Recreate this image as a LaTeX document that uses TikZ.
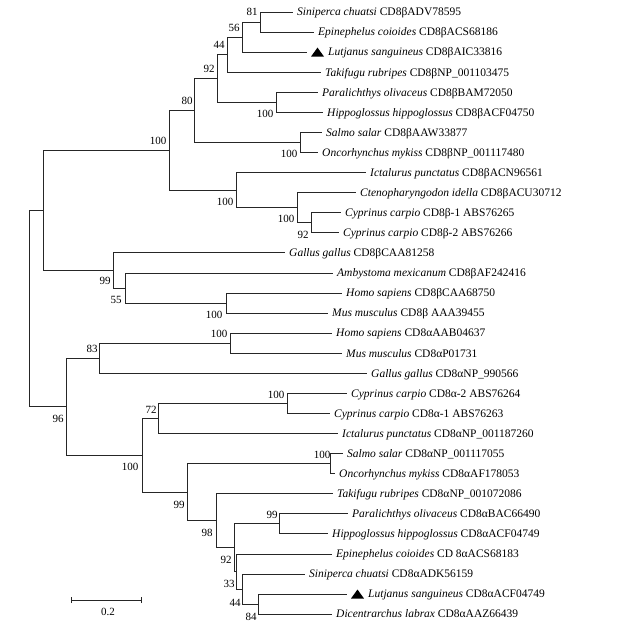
\documentclass[tikz,border=0pt]{standalone}
\usepackage{fontspec}
\setmainfont{Liberation Serif}
\begin{document}
\begin{tikzpicture}[x=1pt,y=-1pt,
  br/.style={line width=0.8pt, draw=black!85},
  leaf/.style={anchor=west, inner xsep=4pt, inner ysep=0pt, text height=7.6pt, text depth=0pt, font=\fontsize{11.5}{13}\selectfont},
  bs/.style={inner sep=0pt, font=\fontsize{11}{12}\selectfont},
  tri/.style={fill=black}]
\useasboundingbox (0,0) rectangle (621,627);
% leaf labels
\node[leaf] (L0) at (293,12.0) {\textit{Siniperca chuatsi} CD8βADV78595};
\node[leaf] (L1) at (314,32.1) {\textit{Epinephelus coioides} CD8βACS68186};
\coordinate (t2) at (307,52.1);
\fill[tri] (311,56.6) -- (324,56.6) -- (317.5,47.6) -- cycle;
\node[leaf] (L2) at (324,52.1) {\textit{Lutjanus sanguineus} CD8βAIC33816};
\node[leaf] (L3) at (321,72.2) {\textit{Takifugu rubripes} CD8βNP\_001103475};
\node[leaf] (L4) at (318,92.3) {\textit{Paralichthys olivaceus} CD8βBAM72050};
\node[leaf] (L5) at (323,112.4) {\textit{Hippoglossus hippoglossus} CD8βACF04750};
\node[leaf] (L6) at (322,132.4) {\textit{Salmo salar} CD8βAAW33877};
\node[leaf] (L7) at (318,152.5) {\textit{Oncorhynchus mykiss} CD8βNP\_001117480};
\node[leaf] (L8) at (366,172.6) {\textit{Ictalurus punctatus} CD8βACN96561};
\node[leaf] (L9) at (356,192.6) {\textit{Ctenopharyngodon idella} CD8βACU30712};
\node[leaf] (L10) at (341,212.7) {\textit{Cyprinus carpio} CD8β-1 ABS76265};
\node[leaf] (L11) at (339,232.8) {\textit{Cyprinus carpio} CD8β-2 ABS76266};
\node[leaf] (L12) at (285,252.8) {\textit{Gallus gallus} CD8βCAA81258};
\node[leaf] (L13) at (333,272.9) {\textit{Ambystoma mexicanum} CD8βAF242416};
\node[leaf] (L14) at (342,293.0) {\textit{Homo sapiens} CD8βCAA68750};
\node[leaf] (L15) at (328,313.1) {\textit{Mus musculus} CD8β AAA39455};
\node[leaf] (L16) at (332,333.1) {\textit{Homo sapiens} CD8αAAB04637};
\node[leaf] (L17) at (342,353.2) {\textit{Mus musculus} CD8αP01731};
\node[leaf] (L18) at (367,373.3) {\textit{Gallus gallus} CD8αNP\_990566};
\node[leaf] (L19) at (347,393.3) {\textit{Cyprinus carpio} CD8α-2 ABS76264};
\node[leaf] (L20) at (330,413.4) {\textit{Cyprinus carpio} CD8α-1 ABS76263};
\node[leaf] (L21) at (338,433.5) {\textit{Ictalurus punctatus} CD8αNP\_001187260};
\node[leaf] (L22) at (343,453.5) {\textit{Salmo salar} CD8αNP\_001117055};
\node[leaf] (L23) at (335,473.6) {\textit{Oncorhynchus mykiss} CD8αAF178053};
\node[leaf] (L24) at (333,493.7) {\textit{Takifugu rubripes} CD8αNP\_001072086};
\node[leaf] (L25) at (348,513.8) {\textit{Paralichthys olivaceus} CD8αBAC66490};
\node[leaf] (L26) at (328,533.8) {\textit{Hippoglossus hippoglossus} CD8αACF04749};
\node[leaf] (L27) at (332,553.9) {\textit{Epinephelus coioides} CD 8αACS68183};
\node[leaf] (L28) at (305,574.0) {\textit{Siniperca chuatsi} CD8αADK56159};
\coordinate (t29) at (347,594.0);
\fill[tri] (351,598.5) -- (364,598.5) -- (357.5,589.5) -- cycle;
\node[leaf] (L29) at (364,594.0) {\textit{Lutjanus sanguineus} CD8αACF04749};
\node[leaf] (L30) at (332,614.1) {\textit{Dicentrarchus labrax} CD8αAAZ66439};
% internal nodes
\coordinate (nA) at (260,22.05);
\coordinate (nB) at (242,37.1);
\coordinate (nC) at (227,54.65);
\coordinate (nD) at (276,102.35);
\coordinate (nE) at (217,78.5);
\coordinate (nF) at (300,142.45);
\coordinate (nG) at (194,110.5);
\coordinate (nI) at (311,222.75);
\coordinate (nJ) at (297,207.7);
\coordinate (nK) at (236,190.15);
\coordinate (nL) at (169,150.3);
\coordinate (nO) at (226,303.05);
\coordinate (nP) at (125,288);
\coordinate (nN) at (113,270.4);
\coordinate (nM) at (43,210.35);
\coordinate (nQ) at (230,343.15);
\coordinate (nR) at (99.5,358.2);
\coordinate (nS) at (287,403.35);
\coordinate (nT) at (158,418.4);
\coordinate (nU) at (330,463.55);
\coordinate (nDD) at (258,604.05);
\coordinate (nCC) at (242,589);
\coordinate (nBB) at (236,571.45);
\coordinate (nAA) at (279,523.8);
\coordinate (nZ) at (234,547.6);
\coordinate (nY) at (216,520.65);
\coordinate (nX) at (187,492.1);
\coordinate (nV) at (142,455.25);
\coordinate (nW) at (66,406.7);
\coordinate (root) at (29,308.5);
% branches
\draw[br] (nA) |- (L0.west); \draw[br] (nA) |- (L1.west);
\draw[br] (nB) |- (nA); \draw[br] (nB) |- (t2);
\draw[br] (nC) |- (nB); \draw[br] (nC) |- (L3.west);
\draw[br] (nD) |- (L4.west); \draw[br] (nD) |- (L5.west);
\draw[br] (nE) |- (nC); \draw[br] (nE) |- (nD);
\draw[br] (nF) |- (L6.west); \draw[br] (nF) |- (L7.west);
\draw[br] (nG) |- (nE); \draw[br] (nG) |- (nF);
\draw[br] (nI) |- (L10.west); \draw[br] (nI) |- (L11.west);
\draw[br] (nJ) |- (L9.west); \draw[br] (nJ) |- (nI);
\draw[br] (nK) |- (L8.west); \draw[br] (nK) |- (nJ);
\draw[br] (nL) |- (nG); \draw[br] (nL) |- (nK);
\draw[br] (nO) |- (L14.west); \draw[br] (nO) |- (L15.west);
\draw[br] (nP) |- (L13.west); \draw[br] (nP) |- (nO);
\draw[br] (nN) |- (L12.west); \draw[br] (nN) |- (nP);
\draw[br] (nM) |- (nL); \draw[br] (nM) |- (nN);
\draw[br] (nQ) |- (L16.west); \draw[br] (nQ) |- (L17.west);
\draw[br] (nR) |- (nQ); \draw[br] (nR) |- (L18.west);
\draw[br] (nS) |- (L19.west); \draw[br] (nS) |- (L20.west);
\draw[br] (nT) |- (nS); \draw[br] (nT) |- (L21.west);
\draw[br] (nU) |- (L22.west); \draw[br] (nU) |- (L23.west);
\draw[br] (nDD) |- (t29); \draw[br] (nDD) |- (L30.west);
\draw[br] (nCC) |- (L28.west); \draw[br] (nCC) |- (nDD);
\draw[br] (nBB) |- (L27.west); \draw[br] (nBB) |- (nCC);
\draw[br] (nAA) |- (L25.west); \draw[br] (nAA) |- (L26.west);
\draw[br] (nZ) |- (nAA); \draw[br] (nZ) |- (nBB);
\draw[br] (nY) |- (L24.west); \draw[br] (nY) |- (nZ);
\draw[br] (nX) |- (nU); \draw[br] (nX) |- (nY);
\draw[br] (nV) |- (nT); \draw[br] (nV) |- (nX);
\draw[br] (nW) |- (nR); \draw[br] (nW) |- (nV);
\draw[br] (root) |- (nM); \draw[br] (root) |- (nW);
% bootstrap values
\node[bs] (bA) at (252,12) {81};
\node[bs] (bB) at (234,28) {56};
\node[bs] (bC) at (219,45) {44};
\node[bs] (bE) at (209,69) {92};
\node[bs] (bG) at (187,101) {80};
\node[bs] (bL) at (158,141) {100};
\node[bs] (bD) at (265,114) {100};
\node[bs] (bF) at (289,154) {100};
\node[bs] (bK) at (225,202) {100};
\node[bs] (bJ) at (286,219) {100};
\node[bs] (bI) at (303,235) {92};
\node[bs] (bN) at (105,281) {99};
\node[bs] (bP) at (116,300) {55};
\node[bs] (bO) at (214,315) {100};
\node[bs] (bQ) at (219,334) {100};
\node[bs] (bR) at (92,349) {83};
\node[bs] (bW) at (58,419) {96};
\node[bs] (bS) at (276,395) {100};
\node[bs] (bT) at (151,410) {72};
\node[bs] (bV) at (130,467) {100};
\node[bs] (bU) at (322,455) {100};
\node[bs] (bX) at (179,505) {99};
\node[bs] (bY) at (207,533) {98};
\node[bs] (bAA) at (272,515) {99};
\node[bs] (bZ) at (226,560) {92};
\node[bs] (bBB) at (229,584) {33};
\node[bs] (bCC) at (235,603) {44};
\node[bs] (bDD) at (251,617) {84};
% scale bar
\coordinate (sb1) at (71,600);
\coordinate (sb2) at (141,600);
\draw[br] (sb1) -- (sb2);
\draw[br] ([yshift=-3pt]sb1) -- ([yshift=3pt]sb1);
\draw[br] ([yshift=-3pt]sb2) -- ([yshift=3pt]sb2);
\node[bs] (sbl) at (108,612) {0.2};
\end{tikzpicture}
\end{document}
